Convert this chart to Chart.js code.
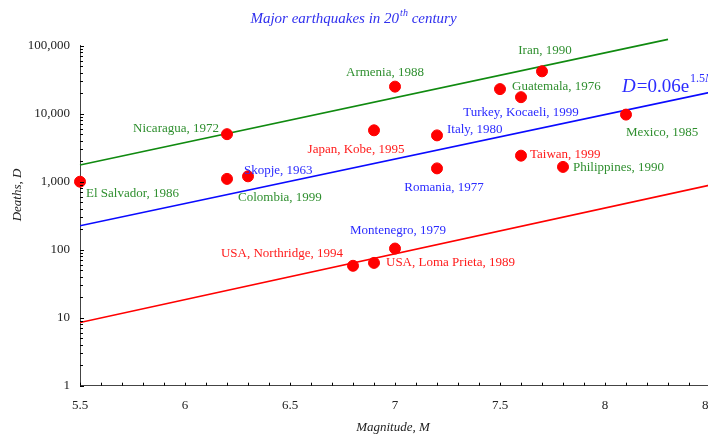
<!DOCTYPE html>
<html>
<head>
<meta charset="utf-8">
<script src="https://cdn.jsdelivr.net/npm/chart.js@4.4.1/dist/chart.umd.min.js"></script>
<style>
html, body { margin: 0; padding: 0; overflow: hidden; background: #fff; }
canvas { display: block; }
</style>
</head>
<body>
<canvas id="quakes" width="740" height="434"></canvas>
<script>
// earthquakes: name, magnitude M, deaths D
const quakeNames = [
  'El Salvador, 1986', 'Nicaragua, 1972', 'Colombia, 1999', 'Skopje, 1963',
  'Armenia, 1988', 'Iran, 1990', 'Guatemala, 1976', 'Turkey, Kocaeli, 1999',
  'Mexico, 1985', 'Japan, Kobe, 1995', 'Italy, 1980', 'Romania, 1977',
  'Taiwan, 1999', 'Philippines, 1990', 'Montenegro, 1979',
  'USA, Northridge, 1994', 'USA, Loma Prieta, 1989'
];
const quakeMag = [5.5, 6.2, 6.2, 6.3, 7.0, 7.7, 7.5, 7.6, 8.1, 6.9, 7.2, 7.2, 7.6, 7.8, 7.0, 6.8, 6.9];
const quakeDeaths = [1000, 5000, 1100, 1200, 25000, 42000, 23000, 17500, 9700, 5700, 4800, 1570, 2415, 1650, 104, 58, 64];

// the three straight lines (end points)
const upperM = [5.5, 8.3];
const upperD = [1760, 124000];
const fitM = [5.5, 8.5];
const fitD = [225, 20600];
const lowerM = [5.5, 8.5];
const lowerD = [8.5, 890];

const yTicks = [1, 10, 100, 1000, 10000, 100000];

const GREEN = '#2f8f2f', BLUE = '#2b2bff', RED = '#ff1a1a';
// label colour and offset from its dot (px), one per quake
const labelLook = [
  [GREEN, 6, 12, 'left'], [GREEN, -8, -6, 'right'], [GREEN, 11, 19, 'left'], [BLUE, -4, -6, 'left'],
  [GREEN, -10, -14, 'center'], [GREEN, 3, -21, 'center'], [GREEN, 12, -3, 'left'], [BLUE, 0, 15, 'center'],
  [GREEN, 0, 18, 'left'], [RED, -18, 19, 'center'], [BLUE, 10, -6, 'left'], [BLUE, 7, 19, 'center'],
  [RED, 9, -1, 'left'], [GREEN, 10, 1, 'left'], [BLUE, 3, -18, 'center'],
  [RED, -10, -12, 'right'], [RED, 12, 0, 'left']
];

const SERIF = '"Liberation Serif", "Times New Roman", serif';

function pairs(xs, ys) {
  return xs.map((x, i) => ({ x: x, y: ys[i] }));
}

const decorPlugin = {
  id: 'decor',
  afterDraw(chart) {
    const ctx = chart.ctx;
    const xs = chart.scales.x, ys = chart.scales.y;
    const area = chart.chartArea;
    ctx.save();
    // inward tick marks
    ctx.strokeStyle = '#000';
    ctx.lineWidth = 1;
    ctx.beginPath();
    for (let i = 0; i <= 30; i++) {
      const px = Math.round(xs.getPixelForValue(5.5 + i * 0.1)) + 0.5;
      ctx.moveTo(px, area.bottom);
      ctx.lineTo(px, area.bottom - 3);
    }
    for (let d = 1; d <= 100000; d *= 10) {
      for (let k = 1; k <= 9; k++) {
        const v = k * d;
        if (v > 100000) break;
        const py = Math.round(ys.getPixelForValue(v)) + 0.5;
        ctx.moveTo(area.left, py);
        ctx.lineTo(area.left + (k === 1 ? 4 : 3), py);
      }
    }
    ctx.stroke();

    // quake labels
    ctx.font = '13px ' + SERIF;
    ctx.textBaseline = 'middle';
    const meta = chart.getDatasetMeta(0);
    meta.data.forEach((pt, i) => {
      const look = labelLook[i];
      ctx.fillStyle = look[0];
      ctx.textAlign = look[3];
      ctx.fillText(quakeNames[i], pt.x + look[1], pt.y + look[2]);
    });

    // equation of the middle line
    ctx.fillStyle = BLUE;
    ctx.textAlign = 'left';
    let x = 622;
    ctx.font = 'italic 19px ' + SERIF;
    ctx.fillText('D', x, 87);
    x += ctx.measureText('D').width + 1;
    ctx.font = '19px ' + SERIF;
    ctx.fillText('=0.06e', x, 87);
    x += ctx.measureText('=0.06e').width + 1;
    ctx.font = '12px ' + SERIF;
    ctx.fillText('1.5', x, 79);
    x += ctx.measureText('1.5').width;
    ctx.font = 'italic 12px ' + SERIF;
    ctx.fillText('M', x, 79);

    // title
    const t1 = 'Major earthquakes in 20', t2 = 'th', t3 = ' century';
    ctx.font = 'italic 15px ' + SERIF;
    const w1 = ctx.measureText(t1).width, w3 = ctx.measureText(t3).width;
    ctx.font = 'italic 10px ' + SERIF;
    const w2 = ctx.measureText(t2).width;
    let tx = 353 - (w1 + w2 + w3) / 2;
    ctx.fillStyle = '#3030ee';
    ctx.font = 'italic 15px ' + SERIF;
    ctx.fillText(t1, tx, 19);
    ctx.font = 'italic 10px ' + SERIF;
    ctx.fillText(t2, tx + w1 + 1, 13);
    ctx.font = 'italic 15px ' + SERIF;
    ctx.fillText(t3, tx + w1 + w2 + 1, 19);

    // axis titles
    ctx.fillStyle = '#222';
    ctx.font = 'italic 13px ' + SERIF;
    ctx.textAlign = 'center';
    ctx.fillText('Magnitude, M', 393, 428);
    ctx.translate(18, 195);
    ctx.rotate(-Math.PI / 2);
    ctx.fillText('Deaths, D', 0, 0);
    ctx.restore();
  }
};

new Chart(document.getElementById('quakes'), {
  type: 'scatter',
  data: {
    datasets: [
      {
        label: 'quakes',
        data: pairs(quakeMag, quakeDeaths),
        backgroundColor: '#ff0000',
        borderColor: '#ff0000',
        borderWidth: 1,
        pointRadius: 5.5,
        pointHoverRadius: 5.5,
        clip: false
      },
      {
        label: 'upper',
        type: 'line',
        data: pairs(upperM, upperD),
        borderColor: '#108a10',
        borderWidth: 1.6,
        pointRadius: 0,
        clip: false
      },
      {
        label: 'fit',
        type: 'line',
        data: pairs(fitM, fitD),
        borderColor: '#0a0aff',
        borderWidth: 1.6,
        pointRadius: 0
      },
      {
        label: 'lower',
        type: 'line',
        data: pairs(lowerM, lowerD),
        borderColor: '#ff0000',
        borderWidth: 1.6,
        pointRadius: 0
      }
    ]
  },
  options: {
    responsive: false,
    animation: false,
    events: [],
    layout: { padding: { top: 45.7, right: 30, left: 0, bottom: 0 } },
    plugins: {
      legend: { display: false },
      title: { display: false },
      tooltip: { enabled: false }
    },
    scales: {
      x: {
        type: 'linear',
        min: 5.5,
        max: 8.5,
        grid: { display: false, drawTicks: false },
        border: { display: true, color: '#444', width: 1 },
        ticks: {
          stepSize: 0.5,
          padding: 12,
          color: '#222',
          font: { family: SERIF, size: 13 },
          callback: v => String(v)
        },
        afterFit(scale) { scale.height = 48.3; }
      },
      y: {
        type: 'logarithmic',
        min: 1,
        max: 100000,
        grid: { display: false, drawTicks: false },
        border: { display: true, color: '#444', width: 1 },
        afterBuildTicks(scale) {
          scale.ticks = yTicks.map(v => ({ value: v }));
        },
        ticks: {
          padding: 10,
          color: '#222',
          font: { family: SERIF, size: 13 },
          callback: v => v.toLocaleString('en-US')
        },
        afterFit(scale) { scale.width = 80; }
      }
    }
  },
  plugins: [decorPlugin]
});
</script>
</body>
</html>
